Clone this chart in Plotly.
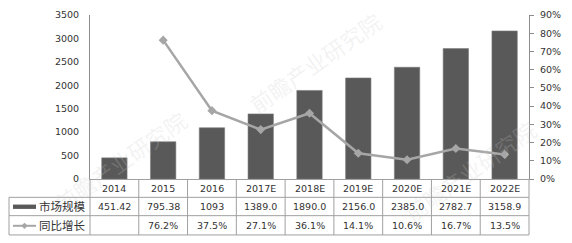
import plotly.graph_objects as go

categories = ["2014", "2015", "2016", "2017E", "2018E", "2019E", "2020E", "2021E", "2022E"]
market_size = [451.42, 795.38, 1093, 1389.0, 1890.0, 2156.0, 2385.0, 2782.7, 3158.9]
market_size_labels = ["451.42", "795.38", "1093", "1389.0", "1890.0", "2156.0", "2385.0", "2782.7", "3158.9"]
growth = [None, 76.2, 37.5, 27.1, 36.1, 14.1, 10.6, 16.7, 13.5]
growth_labels = ["", "76.2%", "37.5%", "27.1%", "36.1%", "14.1%", "10.6%", "16.7%", "13.5%"]
series_names = ["市场规模", "同比增长"]

W, H = 572, 243
L, R, T, B = 90, 529, 9, 179  # plot area in px

def px(x):
    return (x - L) / (R - L)

def py(y):
    return (B - y) / (B - T)

BAR = "#595959"
LINE = "#a6a6a6"
GRID = "#a0a0a0"
TXT = "#333333"
FONT = "DejaVu Sans"
CJK = "Noto Sans CJK SC"

fig = go.Figure()
fig.add_trace(go.Bar(x=categories, y=market_size, name=series_names[0],
                     marker=dict(color=BAR, line=dict(color="#7a7a7a", width=0.6)),
                     width=0.52, yaxis="y"))
fig.add_trace(go.Scatter(x=categories, y=growth, name=series_names[1], mode="lines+markers",
                         line=dict(color=LINE, width=2.5),
                         marker=dict(symbol="diamond", size=7, color=LINE),
                         yaxis="y2", connectgaps=False))

shapes = []
annotations = []

# faint watermark
wm = dict(xref="paper", yref="paper", showarrow=False, xanchor="center", yanchor="middle",
          font=dict(family=CJK, size=22, color="rgba(200,200,200,0.22)"), textangle=-35)
annotations.append(dict(text="前瞻产业研究院", x=px(315), y=py(58), **wm))
annotations.append(dict(text="前瞻产业研究院", x=px(120), y=py(160), **wm))
annotations.append(dict(text="前瞻产业研究院", x=px(470), y=py(170), **wm))

def hline(x0, x1, y):
    shapes.append(dict(type="line", xref="paper", yref="paper", x0=px(x0), x1=px(x1), y0=py(y), y1=py(y),
                       line=dict(color=GRID, width=1)))

def vline_data(xd, y0, y1):
    shapes.append(dict(type="line", xref="x", yref="paper", x0=xd, x1=xd, y0=py(y0), y1=py(y1),
                       line=dict(color=GRID, width=1)))

hline(9, R, 198)
hline(9, R, 217)
hline(9, R, 237)
shapes.append(dict(type="line", xref="paper", yref="paper", x0=px(9), x1=px(9), y0=py(198), y1=py(237),
                   line=dict(color=GRID, width=1)))
shapes.append(dict(type="line", xref="paper", yref="paper", x0=px(L), x1=px(L), y0=py(179), y1=py(237),
                   line=dict(color=GRID, width=1)))
shapes.append(dict(type="line", xref="paper", yref="paper", x0=px(R), x1=px(R), y0=py(179), y1=py(237),
                   line=dict(color=GRID, width=1)))
for i in range(len(categories) - 1):
    vline_data(i + 0.5, 179, 237)

cell_font = dict(family=FONT, size=9.5, color=TXT)
cell = dict(xref="x", yref="paper", showarrow=False, xanchor="center", yanchor="middle", font=cell_font)
for i, c in enumerate(categories):
    annotations.append(dict(text=c, x=i, y=py(188.5), **cell))
    annotations.append(dict(text=market_size_labels[i], x=i, y=py(207.5), **cell))
    if growth_labels[i]:
        annotations.append(dict(text=growth_labels[i], x=i, y=py(227), **cell))

# legend cells
shapes.append(dict(type="rect", xref="paper", yref="paper", x0=px(13), x1=px(36), y0=py(210), y1=py(205.5),
                   fillcolor=BAR, line=dict(width=0)))
shapes.append(dict(type="line", xref="paper", yref="paper", x0=px(13), x1=px(36), y0=py(227.5), y1=py(227.5),
                   line=dict(color=LINE, width=2)))
cx, cy, d = 24.5, 227.5, 3.2
shapes.append(dict(type="path", xref="paper", yref="paper",
                   path=f"M {px(cx - d)} {py(cy)} L {px(cx)} {py(cy - d)} L {px(cx + d)} {py(cy)} L {px(cx)} {py(cy + d)} Z",
                   fillcolor=LINE, line=dict(width=0)))
leg_font = dict(family=CJK, size=11.5, color=TXT)
leg = dict(xref="paper", yref="paper", xanchor="left", yanchor="middle", showarrow=False, font=leg_font)
annotations.append(dict(text=series_names[0], x=px(37), y=py(207.5), **leg))
annotations.append(dict(text=series_names[1], x=px(37), y=py(227), **leg))

fig.update_layout(
    width=W, height=H,
    margin=dict(l=L, r=W - R, t=T, b=H - B, pad=0),
    paper_bgcolor="white", plot_bgcolor="white",
    showlegend=False,
    xaxis=dict(type="category", range=[-0.5, 8.5], showticklabels=False, ticks="",
               showline=True, linecolor=GRID, linewidth=1, showgrid=False, zeroline=False, fixedrange=True),
    yaxis=dict(range=[0, 3500], dtick=500, showline=True, linecolor="#8c8c8c", linewidth=1,
               showgrid=False, zeroline=False, ticks="", ticklen=0,
               tickfont=dict(family=FONT, size=9.5, color=TXT), ticklabelstandoff=8),
    yaxis2=dict(range=[0, 90], dtick=10, ticksuffix="%", overlaying="y", side="right",
                showline=True, linecolor="#8c8c8c", linewidth=1, showgrid=False, zeroline=False,
                ticks="outside", ticklen=4, tickcolor="#8c8c8c", ticklabelstandoff=4,
                tickfont=dict(family=FONT, size=9.5, color=TXT)),
    shapes=shapes,
    annotations=annotations,
)

fig.write_html("out.html")
